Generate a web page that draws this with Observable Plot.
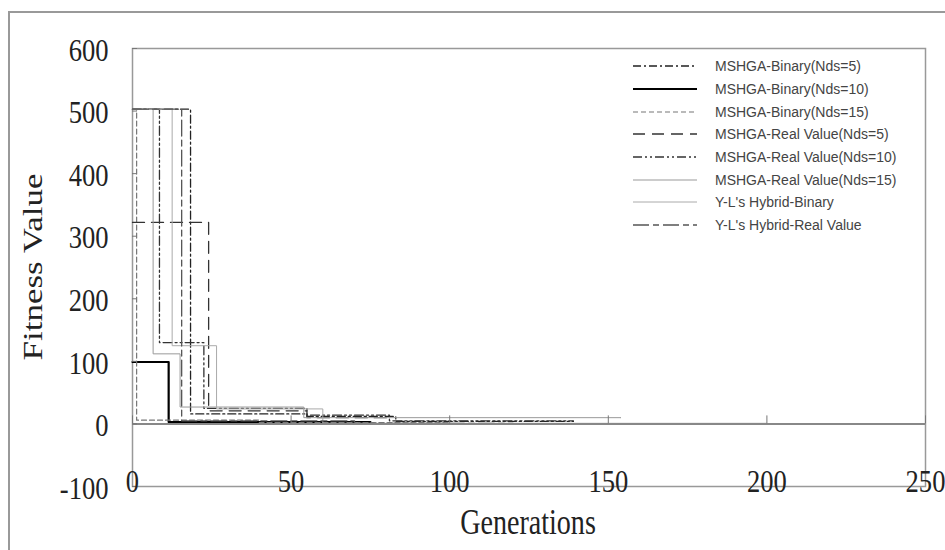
<!DOCTYPE html>
<html>
<head>
<meta charset="utf-8">
<script src="https://cdn.jsdelivr.net/npm/d3@7"></script>
<script src="https://cdn.jsdelivr.net/npm/@observablehq/plot@0.6"></script>
<style>
  html, body { margin: 0; padding: 0; background: #fff; }
  #wrap { position: relative; width: 945px; height: 550px; overflow: hidden; }
  #border { position: absolute; left: 8px; top: 11px; width: 1000px; height: 600px;
            border-left: 2px solid #999; border-top: 2px solid #999; }
  #chart { position: absolute; left: 0; top: 0; }
  .ttl { position: absolute; font-family: "Liberation Serif", "Times New Roman", serif; color: #222; white-space: nowrap; }
  #xtitle { left: 528px; top: 522px; font-size: 36px; transform: translate(-50%, -50%) scale(0.78, 1); }
  #ytitle { left: 33px; top: 267px; font-size: 35px; transform: translate(-50%, -50%) rotate(-90deg) scale(1, 0.78); }
  #legend { position: absolute; left: 633px; top: 55px; font-family: "Liberation Sans", Arial, sans-serif; font-size: 14px; color: #444; }
  #legend .row { height: 22.7px; display: flex; align-items: center; }
  #legend svg { width: 66px; height: 10px; margin-right: 16px; }
</style>
</head>
<body>
<div id="wrap">
  <div id="border"></div>
  <div id="chart"></div>
  <div class="ttl" id="xtitle">Generations</div>
  <div class="ttl" id="ytitle">Fitness Value</div>
  <div id="legend"></div>
</div>
<script>
// ---- data ----
const xTicks = [0, 50, 100, 150, 200, 250];
const yTicks = [-100, 0, 100, 200, 300, 400, 500, 600];

const seriesNames = [
  "MSHGA-Binary(Nds=5)",
  "MSHGA-Binary(Nds=10)",
  "MSHGA-Binary(Nds=15)",
  "MSHGA-Real Value(Nds=5)",
  "MSHGA-Real Value(Nds=10)",
  "MSHGA-Real Value(Nds=15)",
  "Y-L's Hybrid-Binary",
  "Y-L's Hybrid-Real Value"
];

// generation at which each fitness level starts (step functions)
const genB5  = [0, 18.3, 55, 83, 139];
const fitB5  = [503, 16, 12, 4, 4];
const genB10 = [0, 11.4, 75];
const fitB10 = [99, 3, 3];
const genB15 = [0, 1.3, 40, 100];
const fitB15 = [503, 6, 2, 2];
const genR5  = [0, 24, 55, 82];
const fitR5  = [322, 21, 10, 10];
const genR10 = [0, 8.5, 22.5, 55, 81, 139];
const fitR10 = [503, 130, 25, 14, 5, 5];
const genR15 = [0, 6.5, 15, 54, 154];
const fitR15 = [503, 112, 27, 10, 10];
const genYB  = [0, 12.5, 26.5, 60, 200];
const fitYB  = [503, 125, 24, 1, 1];
const genYR  = [0, 15.5, 70, 120];
const fitYR  = [503, 5, 1, 1];

const gens = [genB5, genB10, genB15, genR5, genR10, genR15, genYB, genYR];
const fits = [fitB5, fitB10, fitB15, fitR5, fitR10, fitR15, fitYB, fitYR];

// ---- styles ----
const strokes = ["#222", "#000", "#777", "#333", "#333", "#999", "#aaa", "#555"];
const widths  = [1.3, 2.2, 1.2, 1.3, 1.3, 1, 1, 1.3];
const dashes  = ["8,3,2,3", null, "5,3", "12,7", "9,3,2,3,2,3", null, null, "16,4,6,4"];

const rows = [];
seriesNames.forEach((name, s) => {
  gens[s].forEach((g, i) => rows.push({series: name, gen: g, fit: fits[s][i]}));
});

const lineMarks = seriesNames.map((name, s) =>
  Plot.line(rows.filter(r => r.series === name), {
    x: "gen", y: "fit", curve: "step-after",
    stroke: strokes[s], strokeWidth: widths[s], strokeDasharray: dashes[s]
  })
);

const fmt = d => String(d);

const chart = Plot.plot({
  width: 945, height: 550,
  marginLeft: 132, marginRight: 20, marginTop: 48, marginBottom: 64,
  x: {domain: [0, 250], label: null},
  y: {domain: [-100, 600], label: null},
  style: {fontFamily: "'Liberation Serif', 'Times New Roman', serif", fontSize: "32px", color: "#222", background: "transparent", overflow: "visible"},
  marks: [
    Plot.frame({stroke: "#999", strokeWidth: 1.5}),
    ...lineMarks,
    Plot.ruleY([0], {stroke: "#888", strokeWidth: 2}),
    Plot.axisY({ticks: yTicks, tickFormat: fmt, tickSize: 0, tickPadding: 24, label: null, dy: 2}),
    Plot.axisY({ticks: yTicks, tickSize: 5, dx: 5, text: null, label: null, stroke: "#777"}),
    Plot.axisX({ticks: xTicks, tickFormat: fmt, tickSize: 0, tickPadding: -17, label: null}),
    Plot.axisX({ticks: xTicks, tickSize: 8, dy: -70.6, text: null, label: null, stroke: "#777"})
  ]
});
document.getElementById("chart").appendChild(chart);

// condense tick label text horizontally like the reference
d3.select(chart).selectAll('g[aria-label="x-axis tick label"] text, g[aria-label="y-axis tick label"] text').each(function() {
  const t = this.getAttribute("transform");
  if (t) this.setAttribute("transform", t + " scale(0.83,1)");
});

// legend
const legend = d3.select("#legend");
seriesNames.forEach((name, s) => {
  const row = legend.append("div").attr("class", "row");
  const svg = row.append("svg");
  svg.append("line").attr("x1", 0).attr("x2", 64).attr("y1", 5).attr("y2", 5)
    .attr("stroke", strokes[s]).attr("stroke-width", widths[s])
    .attr("stroke-dasharray", dashes[s]);
  row.append("span").text(name);
});
</script>
</body>
</html>
